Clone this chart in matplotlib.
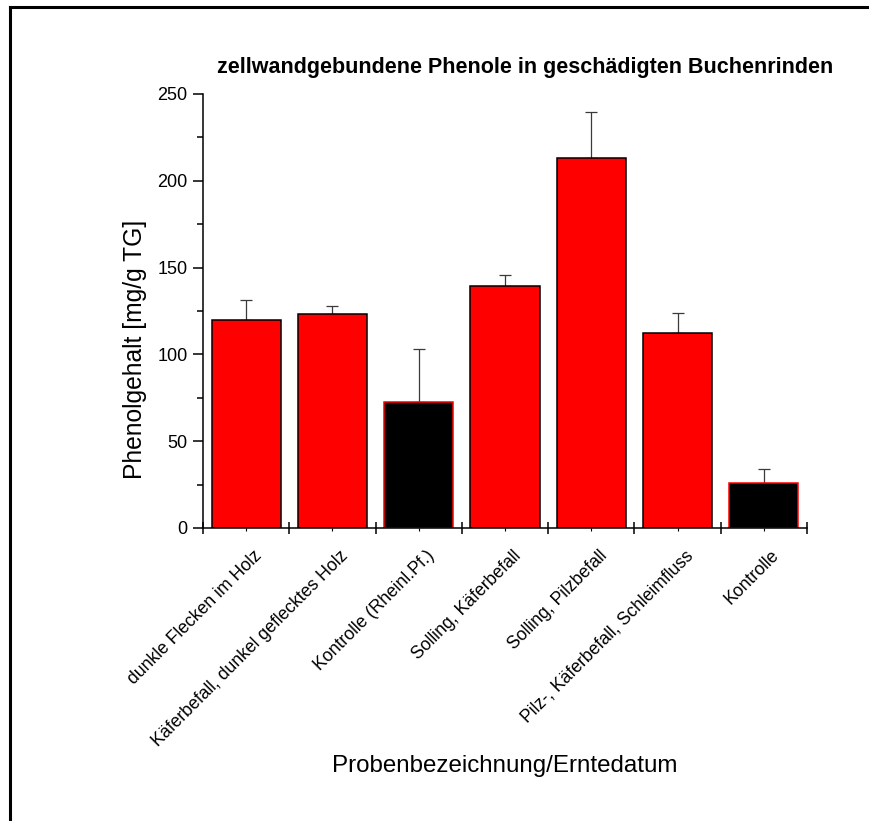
import matplotlib
matplotlib.use('Agg')
import matplotlib.pyplot as plt
import matplotlib.transforms as mtransforms
from matplotlib.lines import Line2D
from matplotlib.ticker import MultipleLocator, FixedLocator, NullFormatter

plt.rcParams['font.family'] = ['Liberation Sans', 'DejaVu Sans']

# Daten
categories = ['dunkle Flecken im Holz', 'Käferbefall, dunkel geflecktes Holz',
              'Kontrolle (Rheinl.Pf.)', 'Solling, Käferbefall', 'Solling, Pilzbefall',
              'Pilz-, Käferbefall, Schleimfluss', 'Kontrolle']
values = [119.6, 123.4, 72.4, 139.6, 213.1, 112.3, 25.7]
errors = [11.7, 4.3, 30.7, 6.1, 26.3, 11.3, 8.3]
is_control = [False, False, True, False, False, False, True]

fig = plt.figure(figsize=(8.69, 8.21), dpi=100)
ax = fig.add_axes([203/869, 1 - 528/821, (807 - 203)/869, (528 - 94)/821])

x = list(range(1, len(categories) + 1))
fills = ['black' if c else '#ff0000' for c in is_control]
edges = ['#ff0000' if c else 'black' for c in is_control]

ax.bar(x, values, width=0.8, color=fills, edgecolor=edges, linewidth=1.1, zorder=2)
ax.errorbar(x, values, yerr=[[0]*len(values), errors], fmt='none', ecolor='#3a3a3a',
            elinewidth=0.9, capsize=4.5, capthick=0.9, zorder=1)

ax.set_xlim(0.5, 7.5)
ax.set_ylim(0, 250)

for s in ['top', 'right']:
    ax.spines[s].set_visible(False)
for s in ['left', 'bottom']:
    ax.spines[s].set_linewidth(1.1)

ax.yaxis.set_major_locator(MultipleLocator(50))
ax.yaxis.set_minor_locator(MultipleLocator(25))
ax.tick_params(axis='y', which='major', direction='out', length=7, width=1.1, labelsize=13, pad=4)
ax.tick_params(axis='y', which='minor', direction='out', length=4, width=1.1)

ax.xaxis.set_major_locator(FixedLocator([i + 0.5 for i in range(0, 8)]))
ax.xaxis.set_major_formatter(NullFormatter())
ax.xaxis.set_minor_locator(FixedLocator(x))
ax.set_xticks(x, categories, minor=True)
ax.tick_params(axis='x', which='major', direction='inout', length=9, width=1.1)
ax.tick_params(axis='x', which='minor', direction='out', length=2, width=0.8,
               labelsize=12.7, pad=16)
offset = mtransforms.ScaledTranslation(13/100, 0, fig.dpi_scale_trans)
for lab in ax.xaxis.get_minorticklabels():
    lab.set_rotation(45)
    lab.set_ha('right')
    lab.set_va('center')
    lab.set_rotation_mode('anchor')
    lab.set_transform(lab.get_transform() + offset)

fig.text(525/869, 1 - 67/821, 'zellwandgebundene Phenole in geschädigten Buchenrinden',
         ha='center', va='center', fontsize=15.5, fontweight='bold')
fig.text(135/869, 1 - 349/821, 'Phenolgehalt [mg/g TG]', rotation=90,
         ha='center', va='center', fontsize=17.7)
fig.text(505/869, 1 - 766/821, 'Probenbezeichnung/Erntedatum',
         ha='center', va='center', fontsize=17.4)

# Rahmen (oben und links)
fig.add_artist(Line2D([10/869, 10/869], [0, 1 - 7/821], color='black', linewidth=2.2))
fig.add_artist(Line2D([10/869, 1], [1 - 7/821, 1 - 7/821], color='black', linewidth=2.2))

fig.savefig('out.png', dpi=100)
